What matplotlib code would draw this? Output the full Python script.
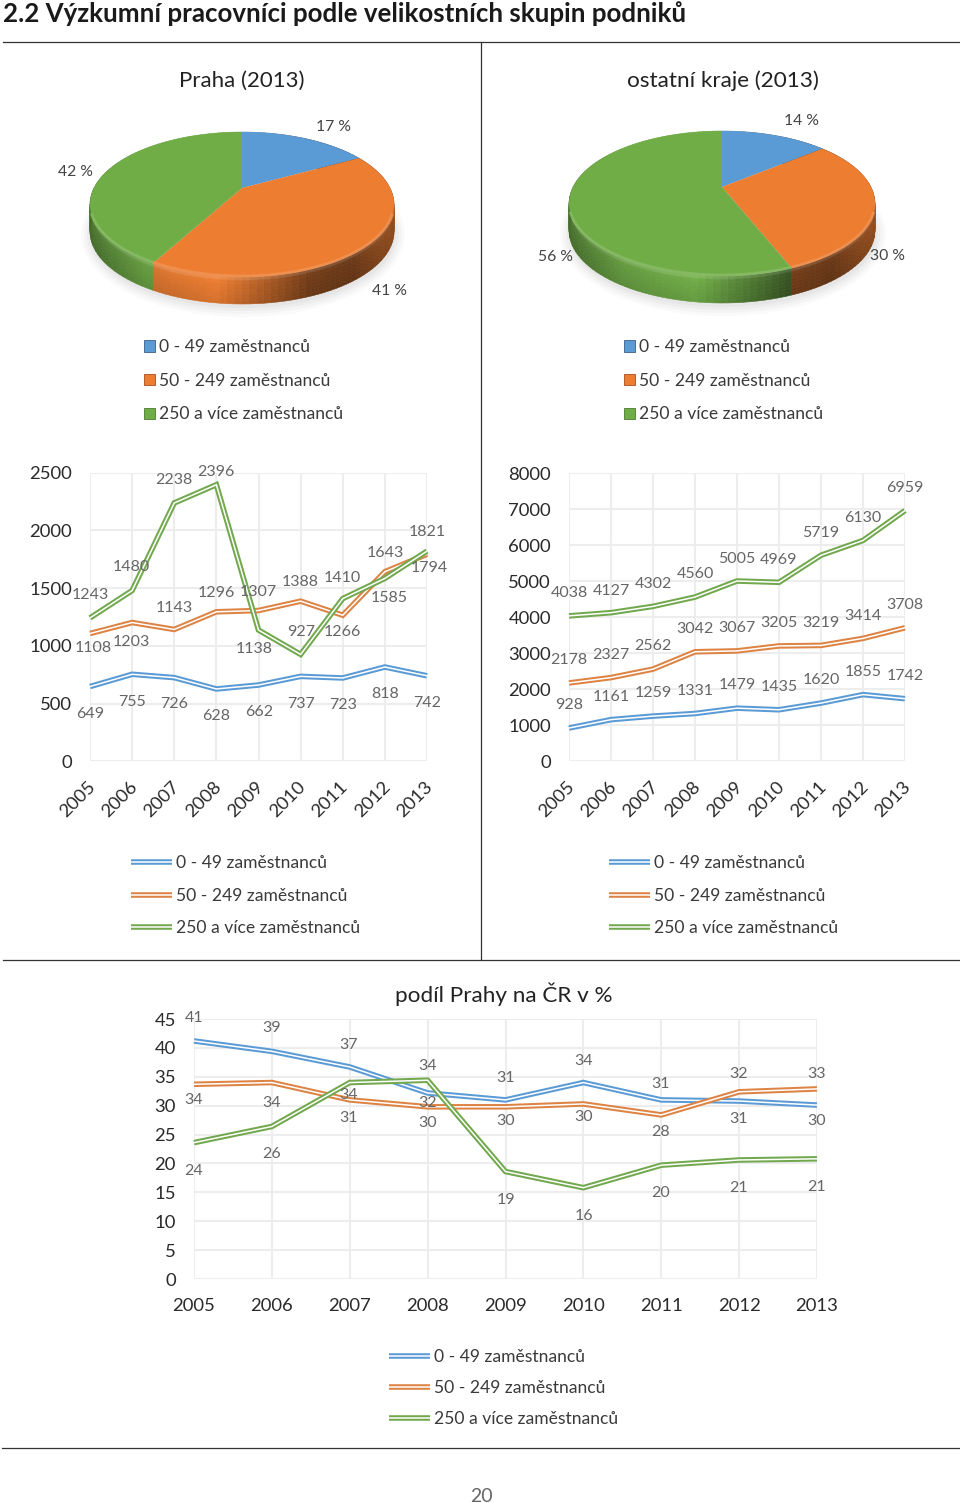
import numpy as np
import matplotlib
matplotlib.use("Agg")
import matplotlib.pyplot as plt
import matplotlib.patheffects as pe
import matplotlib.transforms as mtrans
from matplotlib.collections import PolyCollection
from matplotlib.colors import to_rgb
from matplotlib.lines import Line2D
from matplotlib.patches import Ellipse, Patch

W, H = 960, 1503
plt.rcParams['font.family'] = ['Lato', 'DejaVu Sans']

years = [2005, 2006, 2007, 2008, 2009, 2010, 2011, 2012, 2013]
series_names = ['0 - 49 zaměstnanců', '50 - 249 zaměstnanců', '250 a více zaměstnanců']

pie_praha = [17, 41, 42]
pie_kraje = [14, 30, 56]

praha_small = [649, 755, 726, 628, 662, 737, 723, 818, 742]
praha_mid = [1108, 1203, 1143, 1296, 1307, 1388, 1266, 1643, 1794]
praha_large = [1243, 1480, 2238, 2396, 1138, 927, 1410, 1585, 1821]

kraje_small = [928, 1161, 1259, 1331, 1479, 1435, 1620, 1855, 1742]
kraje_mid = [2178, 2327, 2562, 3042, 3067, 3205, 3219, 3414, 3708]
kraje_large = [4038, 4127, 4302, 4560, 5005, 4969, 5719, 6130, 6959]

podil_small = [41.2, 39.4, 36.7, 32.2, 31.0, 34.0, 31.0, 30.8, 30.1]
podil_mid = [33.7, 34.0, 31.0, 29.8, 29.8, 30.3, 28.4, 32.4, 32.9]
podil_large = [23.6, 26.4, 34.0, 34.4, 18.6, 15.8, 19.7, 20.6, 20.8]

# label anchors (figure pixels, y from the top)
lab1 = [
    [(90, 713), (132, 701), (174, 703), (216, 715), (259, 711), (301, 703), (343, 704), (385, 693), (427, 702)],
    [(93, 647), (131, 641), (174, 607), (216, 592), (258, 591), (300, 581), (342, 631), (385, 552), (429, 567)],
    [(90, 594), (131, 566), (174, 479), (216, 471), (254, 648), (301, 631), (342, 577), (389, 597), (427, 531)],
]
lab2 = [
    [(569, 704), (611, 696), (653, 692), (695, 690), (737, 684), (779, 686), (821, 679), (863, 671), (905, 675)],
    [(569, 659), (611, 654), (653, 645), (695, 628), (737, 627), (779, 622), (821, 622), (863, 615), (905, 604)],
    [(569, 592), (611, 590), (653, 583), (695, 573), (737, 558), (779, 559), (821, 532), (863, 517), (905, 487)],
]
lab3 = [
    [(194, 1017), (272, 1027), (349, 1044), (428, 1102), (506, 1077), (584, 1060), (661, 1083), (739, 1118), (817, 1120)],
    [(194, 1099), (272, 1102), (349, 1117), (428, 1122), (506, 1120), (584, 1116), (661, 1131), (739, 1073), (817, 1073)],
    [(194, 1170), (272, 1153), (349, 1094), (428, 1065), (506, 1199), (584, 1215), (661, 1192), (739, 1187), (817, 1186)],
]

BLUE, ORANGE, GREEN = '#5b9bd5', '#ed7d31', '#70ad47'
LINE_COLS = ['#5b9bd5', '#dd8344', '#72a84e']
PIE_COLS = [BLUE, ORANGE, GREEN]
TXT = '#3a3a3a'
GRAY = '#666666'

fig = plt.figure(figsize=(W / 100, H / 100), dpi=100, facecolor='white')
bg = fig.add_axes([0, 0, 1, 1])
bg.set_xlim(0, W)
bg.set_ylim(H, 0)
bg.axis('off')


def T(x, y, s, **k):
    k.setdefault('ha', 'center')
    k.setdefault('va', 'center')
    k.setdefault('color', TXT)
    bg.text(x, y, s, **k)


# --- page furniture
T(3, 14, '2.2 Výzkumní pracovníci podle velikostních skupin podniků', ha='left',
  fontsize=18.6, fontweight='bold', color='#1a1a1a')
for y, x0 in [(42, 3), (959.5, 3), (1447.5, 2)]:
    bg.plot([x0, W], [y, y], color='#333333', lw=0.9)
bg.plot([481, 481], [42, 959], color='#333333', lw=0.9)
T(481, 1496, '20', fontsize=14, color=GRAY)
T(242, 81, 'Praha (2013)', fontsize=16, color='#222222')
T(723, 81, 'ostatní kraje (2013)', fontsize=16.2, color='#222222')
T(504, 994, 'podíl Prahy na ČR v %', fontsize=16.2, color='#222222')


# --- 3D pies
def persp(cx, cy, shares_frac, rx=150.0, up=56.0, down=89.0):
    c = (down - up) / (down + up)
    a = up * (1 + c)
    d = rx * np.sqrt(1 - c * c)
    th = 2 * np.pi * np.asarray(shares_frac)
    u, v = np.sin(th), np.cos(th)
    den = 1 + c * v
    return cx + d * u / den, cy - a * v / den


def shade(t):
    return np.interp(t, [0, 0.18, 0.42, 0.72, 0.86, 1.0], [0.70, 0.92, 1.02, 0.50, 0.46, 0.66])


def draw_pie(shares, cx, cy, depth=27.0, rx=152.0):
    for grow, al in [(10, 0.03), (7, 0.04), (4, 0.05), (1, 0.06)]:
        bg.add_patch(Ellipse((cx + 1, cy + 47), 2 * (rx + grow), 2 * (72 + grow), color='#777777', alpha=al, lw=0))
    fr = np.cumsum([0] + list(shares)) / float(sum(shares))
    quads, cols = [], []
    for i, col in enumerate(PIE_COLS):
        base = np.array(to_rgb(col))
        f = np.linspace(fr[i], fr[i + 1], int(160 * (fr[i + 1] - fr[i])) + 3)
        xs, ys = persp(cx, cy, f, rx=rx)
        bands = np.linspace(0, 1, 9)
        for k in range(len(f) - 1):
            t = (0.5 * (xs[k] + xs[k + 1]) - (cx - rx)) / (2 * rx)
            s = float(shade(t))
            for b0, b1 in zip(bands[:-1], bands[1:]):
                m = 0.5 * (b0 + b1)
                c = base * s * (1.0 - 0.12 * m)
                if m < 0.2:
                    c = c + (1 - c) * 0.18 * (1 - m / 0.2)
                quads.append([(xs[k], ys[k] + b0 * depth), (xs[k + 1], ys[k + 1] + b0 * depth),
                              (xs[k + 1], ys[k + 1] + b1 * depth), (xs[k], ys[k] + b1 * depth)])
                cols.append(np.clip(c, 0, 1))
    bg.add_collection(PolyCollection(quads, facecolors=cols, edgecolors=cols, linewidths=0.4, zorder=2))
    for i, col in enumerate(PIE_COLS):
        f = np.linspace(fr[i], fr[i + 1], 120)
        xs, ys = persp(cx, cy, f, rx=rx)
        bg.fill(np.r_[cx, xs], np.r_[cy, ys], color=col, lw=0, zorder=3)
        low = ys > cy + 25
        base = np.array(to_rgb(col))
        light = base + (1 - base) * 0.18
        ya = np.where(low, ys - 1, np.nan)
        bg.plot(xs, ya, color=light, lw=2.0, alpha=0.8, zorder=4, solid_capstyle='butt')


draw_pie(pie_praha, 242, 188)
draw_pie(pie_kraje, 722, 187, rx=153.0)

for x, y, v in [(334, 127, pie_praha[0]), (389, 291, pie_praha[1]), (75, 172, pie_praha[2]),
                (802, 121, pie_kraje[0]), (887, 256, pie_kraje[1]), (556, 257, pie_kraje[2])]:
    T(x, y, f'{v} %', fontsize=11.3, color='#444444')


def pie_legend(x, y):
    hs = [Patch(facecolor=c, edgecolor='#3f5f7f' if i == 0 else ('#a5511c' if i == 1 else '#4b7a30'), lw=0.6)
          for i, c in enumerate(PIE_COLS)]
    return fig.legend(hs, series_names, loc='upper left', bbox_to_anchor=(x / W, 1 - y / H),
                      bbox_transform=fig.transFigure, frameon=False, fontsize=12.6, handlelength=0.62,
                      handleheight=0.62, handletextpad=0.22, labelspacing=1.01, borderpad=0, borderaxespad=0,
                      labelcolor=TXT)


def line_legend(x, y, spacing):
    hs = [Line2D([0], [0], color=c, lw=4.0, solid_capstyle='butt',
                 path_effects=[pe.Normal(), pe.Stroke(linewidth=1.1, foreground='white')])
          for c in LINE_COLS]
    return fig.legend(hs, series_names, loc='upper left', bbox_to_anchor=(x / W, 1 - y / H),
                      bbox_transform=fig.transFigure, frameon=False, fontsize=12.6, handlelength=2.34,
                      handletextpad=0.22, labelspacing=spacing, borderpad=0, borderaxespad=0, labelcolor=TXT)


pie_legend(144, 339)
pie_legend(624, 339)
line_legend(131, 855, 0.95)
line_legend(609, 855, 0.95)
line_legend(389, 1349, 0.87)


# --- line charts
def line_chart(x0, x1, ytop, ybot, ymax, step, series, labels, fmt, rot):
    ax = fig.add_axes([x0 / W, 1 - ybot / H, (x1 - x0) / W, (ybot - ytop) / H])
    ax.set_facecolor('none')
    ax.set_xlim(years[0], years[-1])
    ax.set_ylim(0, ymax)
    ax.set_xticks(years)
    ax.set_yticks(np.arange(0, ymax + 1, step))
    ax.grid(True, color='#ededed', lw=1.5)
    ax.set_axisbelow(True)
    for s in ax.spines.values():
        s.set_visible(False)
    ax.tick_params(length=0, labelsize=13.3, labelcolor='#2a2a2a', pad=12 if rot else 14)
    ax.tick_params(axis='y', pad=13)
    if rot:
        off = mtrans.ScaledTranslation(-3 / 100, 0, fig.dpi_scale_trans)
        for t in ax.get_xticklabels():
            t.set(rotation=45, ha='right', va='top', rotation_mode='anchor')
            t.set_transform(t.get_transform() + off)
    for vals, col in zip(series, LINE_COLS):
        ax.plot(years, vals, color=col, lw=4.0, clip_on=False, solid_joinstyle='miter', solid_capstyle='butt',
                path_effects=[pe.Normal(), pe.Stroke(linewidth=1.1, foreground='white')], zorder=3)
    for vals, labs in zip(series, labels):
        for yr, v, (lx, ly) in zip(years, vals, labs):
            ax.annotate(fmt(v), xy=(yr, v), xytext=(lx, H - ly - 1), textcoords='figure pixels',
                        ha='center', va='center', fontsize=11.5, color=GRAY, zorder=5, annotation_clip=False)
    return ax


line_chart(90, 427, 472.7, 761.5, 2500, 500, [praha_small, praha_mid, praha_large], lab1, str, True)
line_chart(569, 905, 473, 761.5, 8000, 1000, [kraje_small, kraje_mid, kraje_large], lab2, str, True)
line_chart(194, 817, 1019, 1279, 45, 5, [podil_small, podil_mid, podil_large], lab3, lambda v: str(round(v)), False)

fig.savefig('out.png', dpi=100, facecolor='white')
